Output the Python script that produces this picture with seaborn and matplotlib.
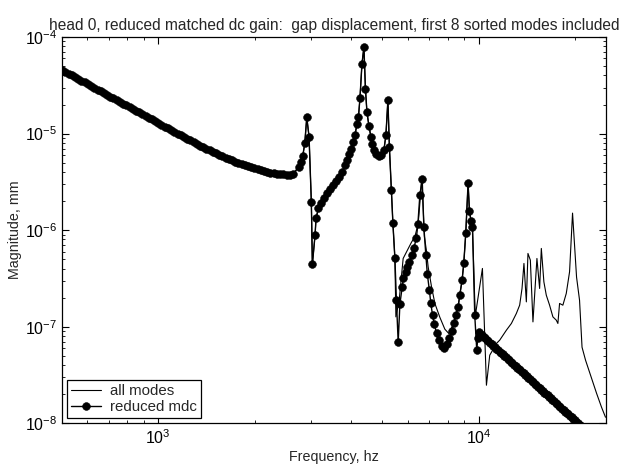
import numpy as np
import pandas as pd
import matplotlib
matplotlib.use("Agg")
import matplotlib.pyplot as plt
import seaborn as sns

# frequency response of head 0: both models agree below ~5.5 kHz
freq_common = [
    501, 513, 525, 537, 550, 562, 575, 589, 603, 617,
    631, 646, 661, 676, 692, 708, 724, 741, 759, 776,
    794, 813, 832, 851, 871, 891, 912, 933, 955, 977,
    1000, 1023, 1047, 1072, 1096, 1122, 1148, 1175, 1202, 1230,
    1259, 1288, 1318, 1349, 1380, 1413, 1445, 1479, 1514, 1549,
    1585, 1622, 1660, 1698, 1738, 1778, 1820, 1862, 1905, 1950,
    1995, 2042, 2089, 2138, 2188, 2239, 2291, 2344, 2399, 2455,
    2512, 2570, 2630,
    2743, 2789, 2823, 2864, 2906, 2954, 3003, 3025, 3084, 3106,
    3158, 3219, 3289, 3361, 3435, 3510, 3585, 3663, 3743, 3824,
    3879, 3936, 3992, 4050, 4108, 4168, 4213, 4259, 4320, 4382,
    4430, 4478, 4543, 4609, 4658, 4709, 4794, 4881, 4969, 5058,
    5132, 5206, 5262, 5338, 5396, 5474,
]
mag_common = [
    4.55e-5, 4.36e-5, 4.18e-5, 4.01e-5, 3.85e-5, 3.69e-5, 3.53e-5, 3.39e-5, 3.25e-5, 3.11e-5,
    2.99e-5, 2.86e-5, 2.74e-5, 2.63e-5, 2.52e-5, 2.42e-5, 2.32e-5, 2.22e-5, 2.13e-5, 2.04e-5,
    1.96e-5, 1.88e-5, 1.80e-5, 1.73e-5, 1.66e-5, 1.59e-5, 1.52e-5, 1.46e-5, 1.40e-5, 1.34e-5,
    1.285e-5, 1.233e-5, 1.183e-5, 1.135e-5, 1.089e-5, 1.045e-5, 1.002e-5, 9.62e-6, 9.23e-6, 8.85e-6,
    8.49e-6, 8.15e-6, 7.83e-6, 7.52e-6, 7.22e-6, 6.93e-6, 6.69e-6, 6.46e-6, 6.23e-6, 6.02e-6,
    5.81e-6, 5.63e-6, 5.46e-6, 5.29e-6, 5.12e-6, 4.97e-6, 4.84e-6, 4.71e-6, 4.59e-6, 4.47e-6,
    4.36e-6, 4.27e-6, 4.18e-6, 4.09e-6, 4.01e-6, 3.93e-6, 3.89e-6, 3.85e-6, 3.82e-6, 3.78e-6,
    3.75e-6, 3.76e-6, 3.78e-6,
    4.53e-6, 5.11e-6, 5.85e-6, 7.91e-6, 1.47e-5, 9.27e-6, 1.96e-6, 4.42e-7, 8.87e-7, 1.32e-6,
    1.68e-6, 1.905e-6, 2.146e-6, 2.417e-6, 2.66e-6, 2.926e-6, 3.219e-6, 3.542e-6, 3.99e-6, 4.717e-6,
    5.313e-6, 6.131e-6, 6.908e-6, 8.164e-6, 9.65e-6, 1.254e-5, 1.483e-5, 2.333e-5, 5.251e-5, 7.877e-5,
    2.891e-5, 1.67e-5, 1.196e-5, 9.2e-6, 7.783e-6, 6.745e-6, 6.131e-6, 5.845e-6, 5.987e-6, 6.745e-6,
    9.65e-6, 2.224e-5, 7.245e-6, 2.597e-6, 1.182e-6, 5.126e-7,
]

# reduced matched-dc model above 5.5 kHz
freq_reduced_hi = [
    5534, 5605, 5674, 5769, 5818, 5911, 5988, 6074, 6169, 6273,
    6387, 6457, 6550, 6660, 6741, 6838, 6912, 7012, 7087, 7174,
    7267, 7382, 7505, 7652, 7780, 7932, 8081, 8222, 8377, 8478,
    8620, 8725, 8872, 8981, 9110, 9262, 9354, 9463, 9559, 9717,
    9858, 9930,
    10000, 10233, 10471, 10715, 10965, 11220, 11482, 11749, 12023, 12303,
    12589, 12882, 13183, 13490, 13804, 14125, 14454, 14791, 15136, 15488,
    15849, 16218, 16596, 16982, 17378, 17783, 18197, 18621, 19055, 19498,
    19953, 20417, 20893,
    10116, 10351, 10593, 10839, 11092, 11350, 11614, 11885, 12162, 12445,
    12735, 13032, 13335, 13646, 13964, 14289, 14622, 14962, 15311, 15668,
    16032, 16406, 16788, 17179, 17579, 17989, 18408, 18836, 19275, 19724,
    20184, 20654,
]
mag_reduced_hi = [
    1.882e-7, 6.908e-8, 1.711e-7, 2.566e-7, 3.181e-7, 3.672e-7, 4.135e-7, 4.66e-7, 5.507e-7, 6.509e-7,
    8.262e-7, 1.154e-6, 2.305e-6, 3.377e-6, 1.074e-6, 5.507e-7, 3.499e-7, 2.389e-7, 1.752e-7, 1.316e-7,
    1.061e-7, 8.563e-8, 7.245e-8, 6.28e-8, 5.987e-8, 6.588e-8, 7.599e-8, 8.982e-8, 1.087e-7, 1.316e-7,
    1.593e-7, 2.12e-7, 3.033e-7, 4.55e-7, 9.309e-7, 3.069e-6, 1.573e-6, 1.24e-6, 1.074e-6, 1.316e-7,
    5.706e-8, 7.6e-8,
    8.71e-8, 8.13e-8, 7.57e-8, 7.06e-8, 6.59e-8, 6.14e-8, 5.73e-8, 5.35e-8, 4.99e-8, 4.65e-8,
    4.34e-8, 4.05e-8, 3.77e-8, 3.52e-8, 3.28e-8, 3.05e-8, 2.85e-8, 2.66e-8, 2.48e-8, 2.31e-8,
    2.16e-8, 2.01e-8, 1.87e-8, 1.75e-8, 1.63e-8, 1.52e-8, 1.42e-8, 1.32e-8, 1.24e-8, 1.15e-8,
    1.07e-8, 1.00e-8, 9.33e-9,
    8.41e-8, 7.84e-8, 7.31e-8, 6.82e-8, 6.36e-8, 5.93e-8, 5.53e-8, 5.16e-8, 4.81e-8, 4.49e-8,
    4.19e-8, 3.90e-8, 3.64e-8, 3.40e-8, 3.17e-8, 2.95e-8, 2.75e-8, 2.57e-8, 2.40e-8, 2.23e-8,
    2.08e-8, 1.94e-8, 1.81e-8, 1.69e-8, 1.58e-8, 1.47e-8, 1.37e-8, 1.28e-8, 1.19e-8, 1.11e-8,
    1.04e-8, 9.67e-9,
]

# full modal model above 5.5 kHz
freq_all_hi = [
    5513, 5645, 5809, 5953, 6169, 6319, 6471, 6550, 6645, 6765,
    6862, 6952, 7124, 7296, 7559, 7838, 8063, 8299, 8478, 8620,
    8725, 8872, 8981, 9110, 9262, 9354, 9463, 9559, 9752, 10268,
    10568, 10822, 11378, 11624, 12198, 12644, 13103, 13418, 13648, 13838,
    14079, 14242, 14490, 14763, 15191, 15488, 15679, 15969, 16248, 16638,
    17037, 17458, 17660, 17875, 18304, 18756, 19206, 19622, 20196, 20633,
    21007, 21544, 22491, 23314, 24166, 24866,
]
mag_all_hi = [
    1.264e-7, 1.882e-7, 5.089e-7, 5.958e-7, 7.508e-7, 8.522e-7, 1.173e-6, 1.905e-6, 3.542e-6, 8.665e-7,
    6.205e-7, 4.165e-7, 2.585e-7, 1.74e-7, 1.254e-7, 9.42e-8, 8.502e-8, 1.036e-7, 1.316e-7, 1.593e-7,
    2.12e-7, 3.033e-7, 4.55e-7, 9.309e-7, 3.069e-6, 1.573e-6, 1.24e-6, 1.074e-6, 1.285e-7, 4.01e-7,
    2.476e-8, 5.066e-8, 6.745e-8, 7.245e-8, 9.199e-8, 1.08e-7, 1.37e-7, 1.67e-7, 2.488e-7, 4.518e-7,
    1.807e-7, 5.735e-7, 4.888e-7, 1.121e-7, 5.089e-7, 2.488e-7, 6.463e-7, 2.912e-7, 2.12e-7, 1.67e-7,
    1.264e-7, 1.168e-7, 1.08e-7, 1.74e-7, 1.67e-7, 2.208e-7, 3.698e-7, 1.501e-6, 3.258e-7, 1.882e-7,
    6.131e-8, 4.496e-8, 2.926e-8, 2.046e-8, 1.465e-8, 1.154e-8,
]

all_modes = pd.DataFrame({"freq": freq_common + freq_all_hi,
                          "mag": mag_common + mag_all_hi}).sort_values("freq")
reduced = pd.DataFrame({"freq": freq_common + freq_reduced_hi,
                        "mag": mag_common + mag_reduced_hi}).sort_values("freq")

sns.set_style("ticks", {"xtick.direction": "in", "ytick.direction": "in"})
plt.rcParams["font.family"] = ["Liberation Sans", "DejaVu Sans"]
plt.rcParams["mathtext.fontset"] = "custom"
plt.rcParams["mathtext.rm"] = "Liberation Sans"
plt.rcParams["mathtext.it"] = "Liberation Sans"

fig, ax = plt.subplots(figsize=(6.25, 4.75), dpi=100)
fig.subplots_adjust(left=0.099, right=0.970, top=0.922, bottom=0.109)

sns.lineplot(data=all_modes, x="freq", y="mag", ax=ax, color="black", lw=0.8,
             estimator=None, sort=False, label="all modes")
sns.lineplot(data=reduced, x="freq", y="mag", ax=ax, color="black", lw=1.0,
             marker="o", markersize=5.6, mec="black", mew=0.4,
             estimator=None, sort=False, label="reduced mdc")

ax.set_xscale("log")
ax.set_yscale("log")
ax.set_xlim(500, 25000)
ax.set_ylim(1e-8, 1e-4)
ax.tick_params(which="both", direction="in", top=True, right=True, colors="black",
               labelsize=11.5)
ax.tick_params(which="major", length=5, width=0.8)
ax.tick_params(which="minor", length=2.5, width=0.6)
for s in ax.spines.values():
    s.set_color("black")
    s.set_linewidth(0.9)

ax.set_title("head 0, reduced matched dc gain:  gap displacement, first 8 sorted modes included",
             fontsize=11.2, pad=5)
ax.set_xlabel("Frequency, hz", fontsize=10.3, labelpad=2)
ax.set_ylabel("Magnitude, mm", fontsize=10.3, labelpad=2)

leg = ax.legend(loc="lower left", fontsize=10.8, frameon=True, fancybox=False,
                edgecolor="black", framealpha=1, borderaxespad=0.35,
                handlelength=2.0, handletextpad=0.6, borderpad=0.25, labelspacing=0.15)
leg.get_frame().set_linewidth(0.9)

fig.savefig("out.png", dpi=100)
